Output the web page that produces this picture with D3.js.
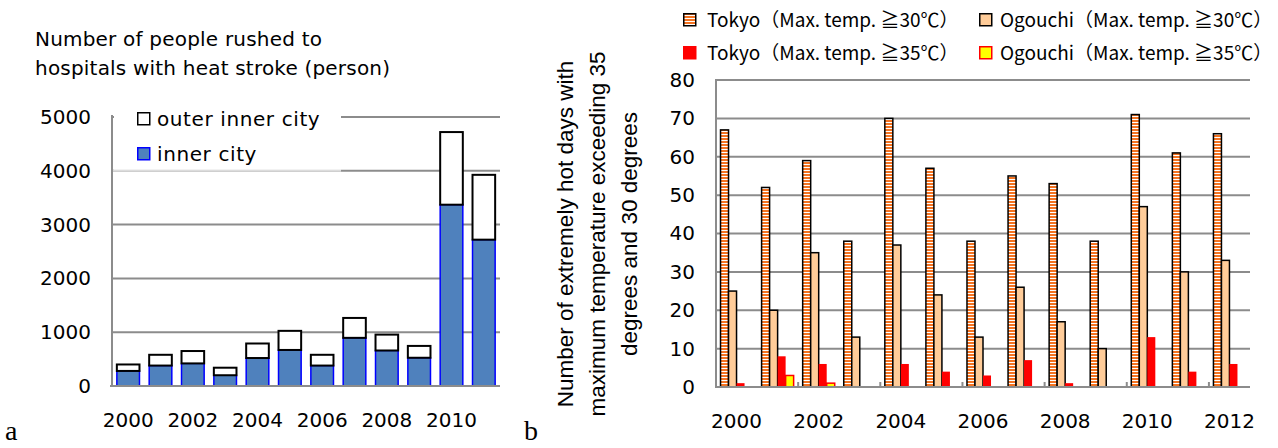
<!DOCTYPE html>
<html>
<head>
<meta charset="utf-8">
<script src="https://cdn.jsdelivr.net/npm/d3@7"></script>
<style>
    body { margin: 0; background: #fff; }
    svg { display: block; }
</style>
</head>
<body>
<svg></svg>
<script>

// ---- chart a data ----
const yearsA = [2000, 2001, 2002, 2003, 2004, 2005, 2006, 2007, 2008, 2009, 2010, 2011]
const innerCity = [280, 380, 420, 200, 520, 670, 380, 895, 660, 525, 3370, 2720]
const outerInnerCity = [120, 200, 230, 140, 270, 355, 200, 370, 295, 220, 1350, 1205]
const xLabelsA = [2000, 2002, 2004, 2006, 2008, 2010]
const yTicksA = [0, 1000, 2000, 3000, 4000, 5000]

// ---- chart b data ----
const yearsB = [2000, 2001, 2002, 2003, 2004, 2005, 2006, 2007, 2008, 2009, 2010, 2011, 2012]
const tokyo30 = [67, 52, 59, 38, 70, 57, 38, 55, 53, 38, 71, 61, 66]
const ogouchi30 = [25, 20, 35, 13, 37, 24, 13, 26, 17, 10, 47, 30, 33]
const tokyo35 = [1, 8, 6, 0, 6, 4, 3, 7, 1, 0, 13, 4, 6]
const ogouchi35 = [0, 3, 1, 0, 0, 0, 0, 0, 0, 0, 0, 0, 0]
const seriesNames = ["Tokyo（Max. temp. ≧30℃）", "Ogouchi（Max. temp. ≧30℃）",
                     "Tokyo（Max. temp. ≧35℃）", "Ogouchi（Max. temp. ≧35℃）"]
const xLabelsB = [2000, 2002, 2004, 2006, 2008, 2010, 2012]
const yTicksB = [0, 10, 20, 30, 40, 50, 60, 70, 80]

const gridColor = "#8c8c8c"
const sansA = "DejaVu Sans"

const svg = d3.select("svg")
    .attr("width", 1278)
    .attr("height", 448)

const defs = svg.append("defs")
const stripe = defs.append("pattern")
    .attr("id", "stripe")
    .attr("patternUnits", "userSpaceOnUse")
    .attr("width", 4)
    .attr("height", 3)
stripe.append("rect").attr("width", 4).attr("height", 3).attr("fill", "#fff")
stripe.append("rect").attr("width", 4).attr("height", 2).attr("fill", "#f47321")

// =============== chart a ===============
const gA = svg.append("g")

const xA = d3.scaleBand()
    .domain(yearsA)
    .range([112, 500])
    .paddingInner(0.3)
    .paddingOuter(0.15)

const yA = d3.scaleLinear()
    .domain([0, 5000])
    .range([386, 117])

// gridlines
gA.append("g")
    .selectAll("line")
    .data(yTicksA.filter(d => d > 0))
    .join("line")
    .attr("x1", 112)
    .attr("x2", 500)
    .attr("y1", d => yA(d))
    .attr("y2", d => yA(d))
    .attr("stroke", gridColor)
    .attr("stroke-width", 2)

// legend box covers the grid
gA.append("rect")
    .attr("x", 114)
    .attr("y", 98)
    .attr("width", 227)
    .attr("height", yA(4000) - 99)
    .attr("fill", "#fff")
gA.append("line")
    .attr("x1", 113).attr("x2", 341)
    .attr("y1", yA(4000)).attr("y2", yA(4000))
    .attr("stroke", "#dcdcdc")
    .attr("stroke-width", 2)

const tableA = yearsA.map((y, i) => ({ year: y, inner: innerCity[i], outer: outerInnerCity[i] }))
const stackA = d3.stack().keys(["inner", "outer"])(tableA)

gA.append("g")
    .selectAll("g")
    .data(stackA)
    .join("g")
    .attr("fill", d => d.key === "inner" ? "#4f81bd" : "#fff")
    .attr("stroke", d => d.key === "inner" ? "#0000ff" : "#000")
    .attr("stroke-width", d => d.key === "inner" ? 1.5 : 2)
    .selectAll("rect")
    .data(d => d)
    .join("rect")
    .attr("x", d => xA(d.data.year))
    .attr("width", xA.bandwidth())
    .attr("y", d => yA(d[1]))
    .attr("height", d => yA(d[0]) - yA(d[1]))

// axis lines
gA.append("line")
    .attr("x1", 112).attr("x2", 112)
    .attr("y1", 115).attr("y2", 387)
    .attr("stroke", gridColor).attr("stroke-width", 2)
gA.append("line")
    .attr("x1", 110).attr("x2", 500)
    .attr("y1", 386).attr("y2", 386)
    .attr("stroke", gridColor).attr("stroke-width", 2)

const yAxisA = gA.append("g")
    .attr("transform", "translate(112,0)")
    .call(d3.axisLeft(yA).tickValues(yTicksA).tickFormat(d3.format("d")).tickSize(0).tickPadding(21))
yAxisA.select(".domain").remove()

const xAxisA = gA.append("g")
    .attr("transform", "translate(0,386)")
    .call(d3.axisBottom(xA).tickValues(xLabelsA).tickSize(0))
xAxisA.select(".domain").remove()
xAxisA.selectAll("text").attr("y", 41).attr("dy", 0)

gA.selectAll(".tick text")
    .attr("font-family", sansA)
    .attr("font-size", 20)
    .attr("fill", "#000")

// title
gA.append("text")
    .attr("font-family", sansA)
    .attr("font-size", 20)
    .attr("letter-spacing", 0.2)
    .selectAll("tspan")
    .data(["Number of people rushed to", "hospitals with heat stroke (person)"])
    .join("tspan")
    .attr("x", 35)
    .attr("y", (d, i) => 46 + i * 29)
    .text(d => d)

// legend a
const legA = gA.append("g")
    .selectAll("g")
    .data([{ name: "outer inner city", fill: "#fff", stroke: "#000" },
           { name: "inner city", fill: "#4f81bd", stroke: "#0000ff" }])
    .join("g")
    .attr("transform", (d, i) => `translate(137, ${112 + i * 35})`)
legA.append("rect")
    .attr("x", 0.75).attr("y", 0.75)
    .attr("width", 12).attr("height", 12)
    .attr("fill", d => d.fill)
    .attr("stroke", d => d.stroke)
    .attr("stroke-width", 1.5)
legA.append("text")
    .attr("x", 20)
    .attr("y", 14)
    .attr("font-family", sansA)
    .attr("font-size", 20)
    .attr("letter-spacing", 0.6)
    .text(d => d.name)

svg.append("text")
    .attr("x", 5).attr("y", 440)
    .attr("font-family", "Liberation Serif")
    .attr("font-size", 28)
    .text("a")

// =============== chart b ===============
const gB = svg.append("g")

const x0 = d3.scaleBand()
    .domain(yearsB)
    .range([716, 1250])
    .paddingInner(0.22)
    .paddingOuter(0.11)

const x1 = d3.scaleBand()
    .domain([0, 1, 2, 3])
    .range([0, x0.bandwidth()])

const yB = d3.scaleLinear()
    .domain([0, 80])
    .range([387, 80])

gB.append("g")
    .selectAll("line")
    .data(yTicksB.filter(d => d > 0))
    .join("line")
    .attr("x1", 716)
    .attr("x2", 1250)
    .attr("y1", d => yB(d))
    .attr("y2", d => yB(d))
    .attr("stroke", gridColor)
    .attr("stroke-width", 2)

const seriesB = [tokyo30, ogouchi30, tokyo35, ogouchi35]
const styleB = [
    { fill: "url(#stripe)", stroke: "#000", sw: 1.5 },
    { fill: "#ffcc99", stroke: "#000", sw: 1.5 },
    { fill: "#ff0000", stroke: "none", sw: 0 },
    { fill: "#ffff00", stroke: "#ff0000", sw: 1.5 }
]

const tableB = yearsB.map((y, i) => ({ year: y, values: seriesB.map(s => s[i]) }))

gB.append("g")
    .selectAll("g")
    .data(tableB)
    .join("g")
    .attr("transform", d => `translate(${x0(d.year)},0)`)
    .selectAll("rect")
    .data(d => d.values.map((v, k) => ({ k: k, v: v })).filter(d => d.v > 0))
    .join("rect")
    .attr("x", d => x1(d.k))
    .attr("width", x1.bandwidth())
    .attr("y", d => yB(d.v))
    .attr("height", d => yB(0) - yB(d.v))
    .attr("fill", d => styleB[d.k].fill)
    .attr("stroke", d => styleB[d.k].stroke)
    .attr("stroke-width", d => styleB[d.k].sw)

// axis lines and ticks
gB.append("line")
    .attr("x1", 716).attr("x2", 716)
    .attr("y1", 79).attr("y2", 388)
    .attr("stroke", gridColor).attr("stroke-width", 2)
gB.append("line")
    .attr("x1", 715).attr("x2", 1250)
    .attr("y1", 387).attr("y2", 387)
    .attr("stroke", gridColor).attr("stroke-width", 2)
gB.append("g")
    .selectAll("line")
    .data(yearsB.filter((d, i) => i > 0 && i % 2 === 0))
    .join("line")
    .attr("x1", d => x0(d) - x0.step() * x0.paddingInner() / 2)
    .attr("x2", d => x0(d) - x0.step() * x0.paddingInner() / 2)
    .attr("y1", 382).attr("y2", 387)
    .attr("stroke", gridColor).attr("stroke-width", 2)

const yAxisB = gB.append("g")
    .attr("transform", "translate(716,0)")
    .call(d3.axisLeft(yB).tickValues(yTicksB).tickSize(0).tickPadding(21))
yAxisB.select(".domain").remove()

const xAxisB = gB.append("g")
    .attr("transform", "translate(0,387)")
    .call(d3.axisBottom(x0).tickValues(xLabelsB).tickSize(0))
xAxisB.select(".domain").remove()
xAxisB.selectAll("text").attr("y", 41).attr("dy", 0)

gB.selectAll(".tick text")
    .attr("font-family", sansA)
    .attr("font-size", 20)
    .attr("fill", "#000")

// y title
gB.append("text")
    .attr("transform", "translate(0,234) rotate(-90)")
    .attr("text-anchor", "middle")
    .attr("font-family", "Liberation Sans")
    .attr("font-size", 22.5)
    .selectAll("tspan")
    .data(["Number of extremely hot days with", "maximum temperature exceeding 35", "degrees and 30 degrees"])
    .join("tspan")
    .attr("x", 0)
    .attr("y", (d, i) => 573 + i * 32)
    .text(d => d)

// legend b
const legB = gB.append("g")
    .selectAll("g")
    .data(seriesNames.map((n, k) => ({ name: n, k: k })))
    .join("g")
    .attr("transform", d => `translate(${d.k % 2 === 0 ? 683 : 979}, ${d.k < 2 ? 13 : 46})`)
legB.append("rect")
    .attr("x", 0.75).attr("y", 0.75)
    .attr("width", 12).attr("height", 12)
    .attr("fill", d => styleB[d.k].fill)
    .attr("stroke", d => d.k === 2 ? "#ff0000" : styleB[d.k].stroke)
    .attr("stroke-width", 1.5)
legB.append("text")
    .attr("x", d => d.k % 2 === 0 ? 24 : 21)
    .attr("y", 14)
    .attr("font-family", "Noto Sans CJK JP")
    .attr("font-size", 19)
    .text(d => d.name)

svg.append("text")
    .attr("x", 524).attr("y", 440)
    .attr("font-family", "Liberation Serif")
    .attr("font-size", 28)
    .text("b")

</script>
</body>
</html>
